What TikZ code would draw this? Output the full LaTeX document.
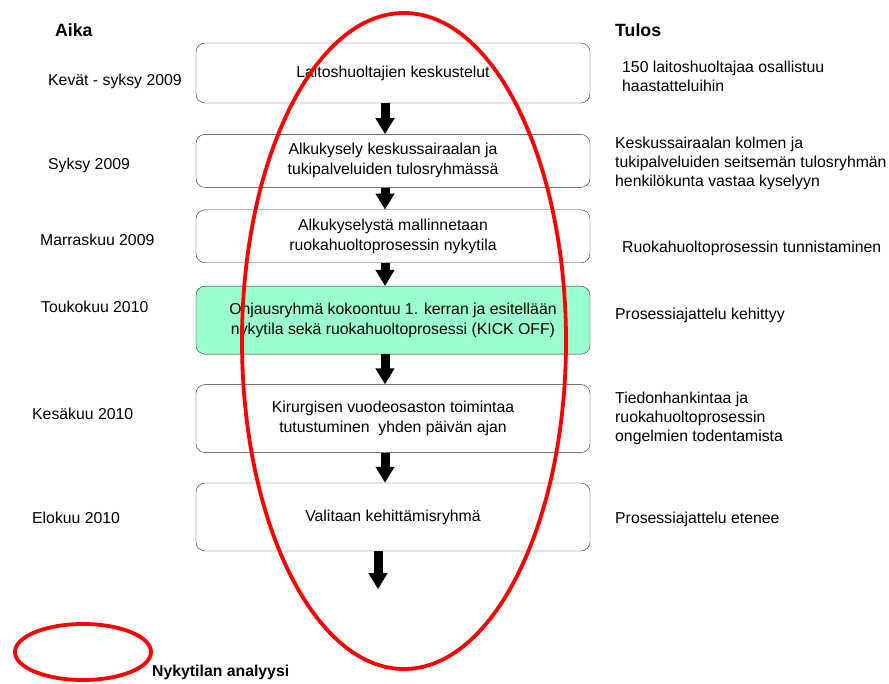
\documentclass[tikz,border=0pt]{standalone}
\usepackage{fontspec}
\setmainfont{Liberation Sans}
\usetikzlibrary{shapes.geometric, arrows.meta, positioning}
\definecolor{mint}{RGB}{153, 255, 204}
\definecolor{ringred}{RGB}{255, 0, 0}
\definecolor{edgegray}{RGB}{40, 40, 40}

\begin{document}
\begin{tikzpicture}[x=1pt, y=-1pt,
            box/.style={draw=edgegray, rounded corners=9pt, minimum width=394pt, align=center, font=\fontsize{15.8}{20}\selectfont},
            kickoff/.style={box, fill=mint},
            flow/.style={-{Triangle[length=16pt, width=18pt]}, line width=9pt, black},
            when/.style={anchor=west, inner sep=0pt, font=\fontsize{15.8}{19}\selectfont},
            result/.style={anchor=west, inner sep=0pt, align=left, font=\fontsize{15.8}{19}\selectfont},
            head/.style={anchor=west, inner sep=0pt, font=\fontsize{17.7}{20}\selectfont\bfseries},
            focus/.style={draw=ringred, line width=3.8pt}
        ]
            \useasboundingbox (0,0) rectangle (889,684);

            \node[head] (aika) at (55,30) {Aika};
            \node[head] (tulos) at (615,30) {Tulos};

            \node[box, minimum height=60pt] (talks) at (393,73) {Laitoshuoltajien keskustelut};
            \node[box, minimum height=53pt, below=31pt of talks] (survey) {Alkukysely keskussairaalan ja\\tukipalveluiden tulosryhmässä};
            \node[box, minimum height=53pt, below=22pt of survey] (model) {Alkukyselystä mallinnetaan\\ruokahuoltoprosessin nykytila};
            \node[kickoff, minimum height=68pt, below=23pt of model] (steer) {Ohjausryhmä kokoontuu 1. kerran ja esitellään\\nykytila sekä ruokahuoltoprosessi (KICK OFF)};
            \node[box, minimum height=68pt, below=30pt of steer] (visit) {Kirurgisen vuodeosaston toimintaa\\tutustuminen\ \ yhden päivän ajan};
            \node[box, minimum height=68pt, below=30pt of visit] (team) {Valitaan kehittämisryhmä};
            \coordinate (next) at ([xshift=-15pt, yshift=-38pt]team.south);

            \node[when] (t1) at (48,81) {Kevät - syksy 2009};
            \node[when] (t2) at (48,165) {Syksy 2009};
            \node[when] (t3) at (40,240) {Marraskuu 2009};
            \node[when] (t4) at (41,307) {Toukokuu 2010};
            \node[when] (t5) at (32,414) {Kesäkuu 2010};
            \node[when] (t6) at (32,518) {Elokuu 2010};

            \node[result] (r1) at (622,76) {150 laitoshuoltajaa osallistuu\\haastatteluihin};
            \node[result] (r2) at (615,163) {Keskussairaalan kolmen ja\\tukipalveluiden seitsemän tulosryhmän\\henkilökunta vastaa kyselyyn};
            \node[result] (r3) at (622,248) {Ruokahuoltoprosessin tunnistaminen};
            \node[result] (r4) at (615,315) {Prosessiajattelu kehittyy};
            \node[result] (r5) at (615,418) {Tiedonhankintaa ja\\ruokahuoltoprosessin\\ongelmien todentamista};
            \node[result] (r6) at (615,519) {Prosessiajattelu etenee};

            \draw[flow] ([xshift=-8pt]talks.south) -- ([xshift=-8pt]survey.north);
            \draw[flow] ([xshift=-8pt]survey.south) -- ([xshift=-8pt]model.north);
            \draw[flow] ([xshift=-8pt]model.south) -- ([xshift=-8pt]steer.north);
            \draw[flow] ([xshift=-8pt]steer.south) -- ([xshift=-8pt]visit.north);
            \draw[flow] ([xshift=-8pt]visit.south) -- ([xshift=-8pt]team.north);
            \draw[flow] ([xshift=-15pt]team.south) -- (next);

            % the analysed part and its key
            \draw[focus] (404,341) ellipse [x radius=162pt, y radius=328pt];
            \node[ellipse, focus, minimum width=136pt, minimum height=56pt] (key) at (83,652) {};
            \node[anchor=west, inner sep=0pt, font=\fontsize{15.8}{18}\selectfont\bfseries] (keytext) at (152,672) {Nykytilan analyysi};
        \end{tikzpicture}
\end{document}
